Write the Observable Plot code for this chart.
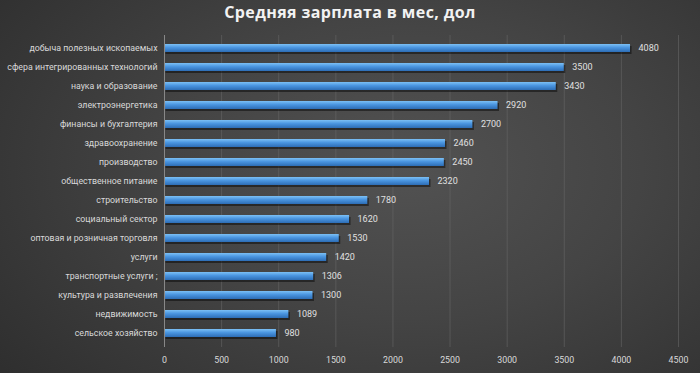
<!DOCTYPE html>
<html><head><meta charset="utf-8">
<script src="https://cdn.jsdelivr.net/npm/d3@7"></script>
<script src="https://cdn.jsdelivr.net/npm/@observablehq/plot@0.6"></script>
<style>
html,body{margin:0;padding:0;}
body{width:700px;height:373px;overflow:hidden;
background:radial-gradient(ellipse 75% 90% at 58% 45%, #525252 0%, #444 45%, #2e2e2e 100%);
font-family:"Open Sans","Noto Sans",sans-serif;}
#title{height:28px;line-height:24px;text-align:center;color:#f2f2f2;font-size:16px;font-weight:bold;letter-spacing:0.4px;}
</style></head>
<body>
<div id="title">Средняя зарплата в мес, дол</div>
<div id="chart"></div>
<script>
const categories = ["добыча полезных ископаемых","сфера интегрированных технологий","наука и образование","электроэнергетика","финансы и бухгалтерия","здравоохранение","производство","общественное питание","строительство","социальный сектор","оптовая и розничная торговля","услуги","транспортные услуги ;","культура и развлечения","недвижимость","сельское хозяйство"];
const values = [4080,3500,3430,2920,2700,2460,2450,2320,1780,1620,1530,1420,1306,1300,1089,980];
const xTicks = [0,500,1000,1500,2000,2500,3000,3500,4000,4500];
const data = categories.map((c,i)=>({category:c,value:values[i]}));
const font = "Roboto,'Noto Sans',sans-serif";

const chart = Plot.plot({
  width:700, height:345,
  marginLeft:164, marginRight:22, marginTop:7, marginBottom:26,
  style:{background:"transparent", color:"#d9d9d9", fontSize:"8.8px", fontFamily:font},
  x:{domain:[0,4500], ticks:xTicks, tickFormat:d=>String(d), grid:false, label:null, tickSize:0, tickPadding:9},
  y:{domain:categories, paddingInner:0.56, paddingOuter:0.28, label:null, tickSize:0, tickPadding:7},
  marks:[
    Plot.ruleX(xTicks,{stroke:"#6a6a6a", strokeOpacity:0.55, strokeWidth:1}),
    Plot.barX(data,{y:"category", x:"value", fill:"#000", fillOpacity:0.45, dx:1.5, dy:2}),
    Plot.barX(data,{y:"category", x:"value", fill:"url(#barGrad)"}),
    Plot.ruleX([0],{stroke:"#888", strokeWidth:1}),
    Plot.text(data,{y:"category", x:"value", text:d=>String(d.value), dx:8, textAnchor:"start", fill:"#e0e0e0", fontSize:9})
  ]
});
const defs = d3.select(chart).insert("defs",":first-child");
const g = defs.append("linearGradient").attr("id","barGrad").attr("x1",0).attr("y1",0).attr("x2",0).attr("y2",1);
g.append("stop").attr("offset","0%").attr("stop-color","#7cc0f5");
g.append("stop").attr("offset","45%").attr("stop-color","#4a95e0");
g.append("stop").attr("offset","100%").attr("stop-color","#2d6db5");
document.getElementById("chart").appendChild(chart);
</script>
</body></html>
